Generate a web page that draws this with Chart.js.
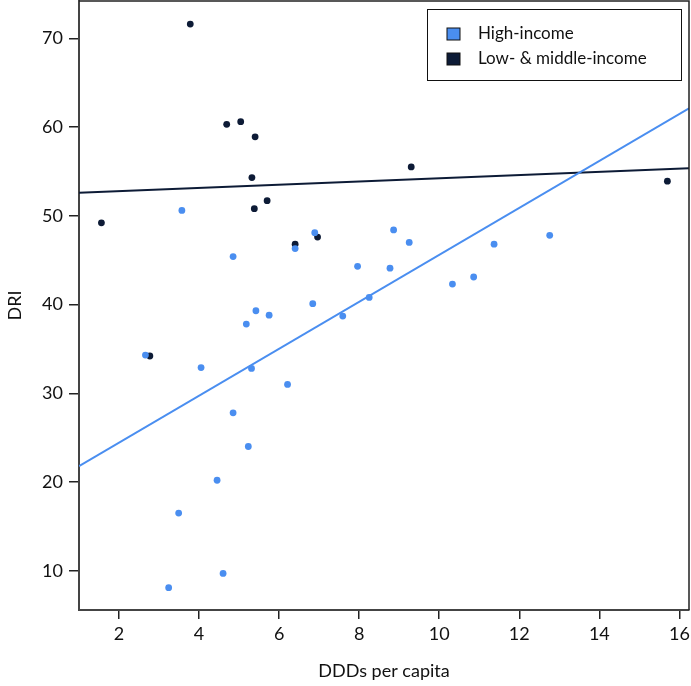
<!DOCTYPE html>
<html>
<head>
    <title>DRI vs DDDs per capita</title>
    <script src="https://cdn.jsdelivr.net/npm/chart.js"></script>
    <style>
        html, body { margin: 0; padding: 0; background: #fff; }
        #wrap { width: 691px; height: 686px; }
    </style>
</head>
<body>
    <div id="wrap"><canvas id="driChart" width="691" height="686"></canvas></div>

    <script>
        // values
        const highX = [3.57, 4.85, 6.40, 6.89, 5.42, 5.75, 6.84, 7.59, 8.86, 9.25, 7.96, 8.77, 11.37, 12.76,
                       10.33, 10.86, 8.25, 2.66, 4.05, 5.18, 5.31, 6.21, 4.85, 5.23, 4.45, 3.49, 4.60, 3.24];
        const highY = [50.6, 45.4, 46.3, 48.1, 39.3, 38.8, 40.1, 38.7, 48.4, 47.0, 44.3, 44.1, 46.8, 47.8,
                       42.3, 43.1, 40.8, 34.3, 32.9, 37.8, 32.8, 31.0, 27.8, 24.0, 20.2, 16.5, 9.7, 8.1];
        const lowX = [1.56, 3.78, 4.69, 5.04, 5.40, 5.32, 5.38, 5.70, 6.40, 6.96, 9.30, 15.70, 2.77];
        const lowY = [49.2, 71.6, 60.3, 60.6, 58.9, 54.3, 50.8, 51.7, 46.8, 47.6, 55.5, 53.9, 34.2];

        // fitted lines, end points
        const trendX = [1.0, 16.24];
        const highTrend = [21.8, 62.1];
        const lowTrend = [52.6, 55.35];

        const xTicks = [2, 4, 6, 8, 10, 12, 14, 16];
        const yTicks = [10, 20, 30, 40, 50, 60, 70];

        const blue = '#4a8ef0';
        const navy = '#0d1b36';
        const font = "Lato, 'Open Sans', sans-serif";

        const toPoints = (xs, ys) => xs.map((x, i) => ({ x: x, y: ys[i] }));

        const legendItems = [
            { label: 'High-income', color: blue },
            { label: 'Low- & middle-income', color: navy }
        ];

        const framePlugin = {
            id: 'frame',
            afterDraw(chart) {
                const ctx = chart.ctx;
                const a = chart.chartArea;
                ctx.save();
                ctx.strokeStyle = '#222';
                ctx.lineWidth = 1.5;
                ctx.beginPath();
                ctx.moveTo(a.left, a.top);
                ctx.lineTo(a.right, a.top);
                ctx.lineTo(a.right, a.bottom);
                ctx.stroke();

                // legend box in the top right corner
                const bx = a.right - 262, by = a.top + 8, bw = 254, bh = 71;
                ctx.fillStyle = '#fff';
                ctx.fillRect(bx, by, bw, bh);
                ctx.strokeStyle = '#111';
                ctx.lineWidth = 1;
                ctx.strokeRect(bx + 0.5, by + 0.5, bw, bh);
                ctx.font = '17px ' + font;
                ctx.textBaseline = 'middle';
                legendItems.forEach((it, i) => {
                    const cy = by + 25 + i * 25;
                    ctx.fillStyle = it.color;
                    ctx.fillRect(bx + 20, cy - 6, 13, 12);
                    ctx.strokeStyle = '#111';
                    ctx.strokeRect(bx + 20, cy - 6, 13, 12);
                    ctx.fillStyle = '#111';
                    ctx.fillText(it.label, bx + 51, cy);
                });
                ctx.restore();
            }
        };

        const ctx = document.getElementById('driChart').getContext('2d');
        const driChart = new Chart(ctx, {
            type: 'scatter',
            data: {
                datasets: [
                    {
                        label: 'High-income fit',
                        type: 'line',
                        data: toPoints(trendX, highTrend),
                        borderColor: blue,
                        borderWidth: 2,
                        pointRadius: 0,
                        fill: false
                    },
                    {
                        label: 'Low- & middle-income fit',
                        type: 'line',
                        data: toPoints(trendX, lowTrend),
                        borderColor: navy,
                        borderWidth: 2,
                        pointRadius: 0,
                        fill: false
                    },
                    {
                        label: 'High-income',
                        data: toPoints(highX, highY),
                        backgroundColor: blue,
                        borderWidth: 0,
                        pointRadius: 3.4
                    },
                    {
                        label: 'Low- & middle-income',
                        data: toPoints(lowX, lowY),
                        backgroundColor: navy,
                        borderWidth: 0,
                        pointRadius: 3.4
                    }
                ]
            },
            options: {
                responsive: false,
                animation: false,
                layout: { autoPadding: false, padding: { top: 1, right: 2, left: 0, bottom: 0 } },
                plugins: {
                    legend: { display: false },
                    tooltip: { enabled: false }
                },
                scales: {
                    x: {
                        type: 'linear',
                        min: 1.0,
                        max: 16.24,
                        afterBuildTicks: s => { s.ticks = xTicks.map(v => ({ value: v })); },
                        afterFit: s => { s.height = 76; s.paddingLeft = 0; s.paddingRight = 0; },
                        grid: { drawOnChartArea: false, drawTicks: true, tickLength: 9, color: '#222', lineWidth: 1.5 },
                        border: { display: true, color: '#444', width: 2 },
                        ticks: { color: '#111', font: { family: font, size: 18 }, padding: 4 },
                        title: { display: true, text: 'DDDs per capita', color: '#111', font: { family: font, size: 18 }, padding: { top: 12 } }
                    },
                    y: {
                        type: 'linear',
                        min: 5.58,
                        max: 74.2,
                        afterBuildTicks: s => { s.ticks = yTicks.map(v => ({ value: v })); },
                        afterFit: s => { s.width = 79; s.paddingTop = 0; s.paddingBottom = 0; },
                        grid: { drawOnChartArea: false, drawTicks: true, tickLength: 10, color: '#222', lineWidth: 1.5 },
                        border: { display: true, color: '#444', width: 2 },
                        ticks: { color: '#111', font: { family: font, size: 18 }, padding: 6 },
                        title: { display: true, text: 'DRI', color: '#111', font: { family: font, size: 18 }, padding: { bottom: 0 } }
                    }
                }
            },
            plugins: [framePlugin]
        });
    </script>
</body>
</html>
